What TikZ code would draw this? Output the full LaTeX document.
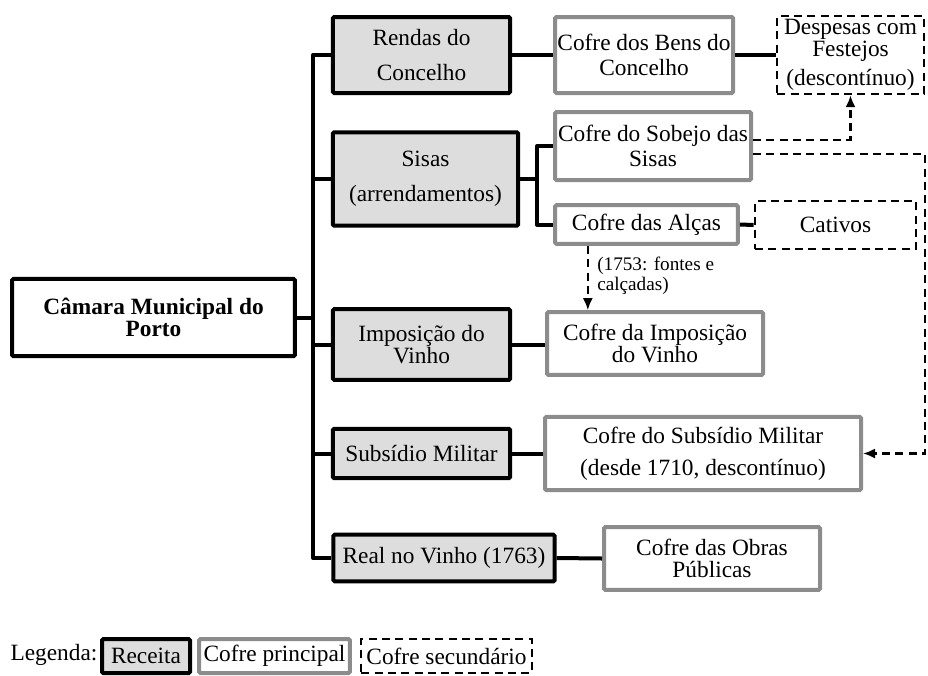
\documentclass[tikz,border=0pt]{standalone}
\usepackage{fontspec}
\setmainfont{Liberation Serif}
\usetikzlibrary{arrows.meta}

\definecolor{receitafill}{HTML}{DDDDDD}
\definecolor{cofregray}{HTML}{8C8C8C}

\tikzset{
	receita/.style={draw, line width=3pt, fill=receitafill, rounded corners=1pt, align=center, inner sep=1pt},
	cofre/.style={draw=cofregray, line width=3pt, fill=white, rounded corners=1pt, align=center, inner sep=1pt},
	secundario/.style={draw, line width=1.8pt, dash pattern=on 6pt off 4pt, align=center, inner sep=1pt},
	ligacao/.style={line width=3pt, line join=round},
	seta/.style={-{Latex[length=9pt,width=7.5pt]}, line width=1.6pt, dash pattern=on 6pt off 4pt},
	apertado/.style={font=\fontsize{17.5}{16.5}\selectfont},
	medio/.style={font=\fontsize{17.5}{18.75}\selectfont},
	largo/.style={font=\fontsize{17.5}{26}\selectfont}
}

\begin{document}
\begin{tikzpicture}[x=0.75pt, y=-0.75pt]
		\useasboundingbox (0,0) rectangle (928,675);
		
		%Main node
		\node (camara) at (153.5,317.5) [draw, line width=3pt, rounded corners=1pt, minimum width=212pt, 
		minimum height=58pt, align=center, apertado]{\textbf{Câmara Municipal do}\\\textbf{Porto}};
		
		%Receitas
		\node (rendas) at (421.5,55) [receita, largo, minimum width=133pt, minimum height=57pt]{Rendas do\\Concelho};
		
		\node (sisas) at (425.5,179) [receita, largo, minimum width=139pt, minimum height=70pt]{Sisas\\(arrendamentos)};
		
		\node (imposicao) at (421.5,344.5) [receita, apertado, minimum width=133pt, minimum height=53pt]{Imposição do\\Vinho};
		
		\node (subsidio) at (421.5,453.5) [receita, apertado, minimum width=133pt, minimum height=37pt]{Subsídio Militar};
		
		\node (real) at (444,558) [receita, apertado, minimum width=166pt, minimum height=35pt]{Real no Vinho (1763)};
		
		%Cofres principais
		\node (bens) at (644,55) [cofre, medio, minimum width=133.5pt, minimum height=57pt]{Cofre dos Bens do\\Concelho};
		
		\node (sobejo) at (653,146) [cofre, medio, minimum width=147pt, minimum height=51pt]{Cofre do Sobejo das\\Sisas};
		
		\node (alcas) at (646.5,224.5) [cofre, apertado, minimum width=137pt, minimum height=29pt]{Cofre das Alças};
		
		\node (impvinho) at (655,343.5) [cofre, apertado, minimum width=162pt, minimum height=47pt]{Cofre da Imposição\\do Vinho};
		
		\node (submil) at (703,453.5) [cofre, font=\fontsize{17.5}{24}\selectfont, minimum width=237pt, 
		minimum height=55pt]{Cofre do Subsídio Militar\\(desde 1710, descontínuo)};
		
		\node (obras) at (712,558.5) [cofre, apertado, minimum width=162pt, minimum height=47pt]{Cofre das Obras\\Públicas};
		
		%Cofres secundarios
		\node (despesas) at (850.5,55) [secundario, font=\fontsize{17.5}{16.5}\selectfont, minimum width=110pt, 
		minimum height=58.5pt]{Despesas com\\Festejos\\[5pt](descontínuo)};
		
		\node (cativos) at (835.5,225) [secundario, apertado, minimum width=121pt, minimum height=36pt]{Cativos};
		
		%Links
		\coordinate (trunk) at (313,0);
		\coordinate (sfork) at (537,0);
		\coordinate (rail) at (925,0);
		
		\draw[ligacao] (camara.east) -- (camara.east -| trunk);
		\draw[ligacao] (rendas.west) -| (trunk |- real.west) -- (real.west);
		\draw[ligacao] (sisas.west) -- (sisas.west -| trunk);
		\draw[ligacao] (imposicao.west) -- (imposicao.west -| trunk);
		\draw[ligacao] (subsidio.west) -- (subsidio.west -| trunk);
		
		\draw[ligacao] (rendas.east) -- (bens.west);
		\draw[ligacao] (bens.east) -- (despesas.west);
		\draw[ligacao] (sisas.east) -- (sisas.east -| sfork);
		\draw[ligacao] (sobejo.west) -| (sfork |- alcas.west) -- (alcas.west);
		\draw[ligacao] (alcas.east) -- (cativos.west);
		\draw[ligacao] (imposicao.east) -- (imposicao.east -| impvinho.west);
		\draw[ligacao] (subsidio.east) -- (submil.west);
		\draw[ligacao] (real.east) -- (obras.west);
		
		%Dashed arrows
		\draw[seta] ([yshift=4.5pt]sobejo.east) -| (despesas.south);
		\draw[seta] ([yshift=-6pt]sobejo.east) -| (rail |- submil.east) -- (submil.east);
		\draw[seta] ([xshift=-44pt]alcas.south) -- ([xshift=-44pt]alcas.south |- impvinho.north);
		
		\node (nota) at (597,276) [anchor=west, align=left, inner sep=0pt, 
		font=\fontsize{14.4}{15}\selectfont]{(1753: fontes e\\calçadas)};
		
		%Legend
		\node (legenda) at (54,655) [apertado, inner sep=0pt]{Legenda:};
		\node (legreceita) at (146,656) [receita, apertado, minimum width=66pt, minimum height=25.5pt]{Receita};
		\node (legcofre) at (274.5,656) [cofre, apertado, minimum width=113pt, minimum height=25.5pt]{Cofre principal};
		\node (legsecundario) at (446.5,656) [secundario, apertado, minimum width=128pt, minimum height=25.5pt]{Cofre secundário};
		
\end{tikzpicture}
\end{document}
